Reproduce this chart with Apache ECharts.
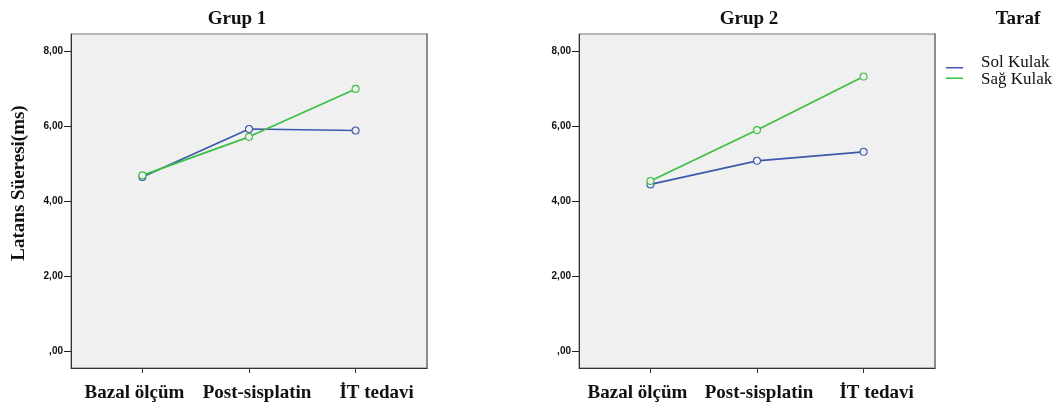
<!DOCTYPE html>
<html>
<head>
<meta charset="utf-8">
<script src="https://cdn.jsdelivr.net/npm/echarts@6/dist/echarts.min.js"></script>
<style>
html,body{margin:0;padding:0;background:#fff;}
#c{width:1061px;height:412px;}
</style>
</head>
<body>
<div id="c"></div>
<script>
var categories = ['Bazal ölçüm', 'Post-sisplatin', 'İT tedavi'];
var yTicks = [0, 2, 4, 6, 8];
var grup1Sol = [4.65, 5.93, 5.89];
var grup1Sag = [4.69, 5.72, 7.00];
var grup2Sol = [4.45, 5.08, 5.32];
var grup2Sag = [4.54, 5.90, 7.33];
var seriesNames = ['Sol Kulak', 'Sağ Kulak'];
var panelTitles = ['Grup 1', 'Grup 2'];

var BLUE = '#3e58ac', GREEN = '#3cbf45';
var SERIF = '"Liberation Serif","Times New Roman",serif';
var SANS = '"Liberation Sans",Arial,sans-serif';

function pairs(vals){ return vals.map(function(v,i){ return [i, v]; }); }
function yFmt(v){ return v === 0 ? ',00' : v.toFixed(2).replace('.', ','); }

// label shifts per panel (in px, via padding)
var shiftsPanel = [[-8, 8, 21], [-13, 2, 13]];

function xAxisFor(gi){
  var sh = shiftsPanel[gi];
  var rich = {};
  sh.forEach(function(s, i){
    rich['l' + i] = {
      fontFamily: SERIF, fontWeight: 'bold', fontSize: 19, color: '#111',
      padding: s < 0 ? [0, -2 * s, 0, 0] : [0, 0, 0, 2 * s]
    };
  });
  return {
    type: 'value', gridIndex: gi, min: -0.67, max: 2.67,
    axisLine: { show: true, onZero: false, lineStyle: { color: '#333', width: 1 } },
    axisTick: { show: true, length: 5, lineStyle: { color: '#333' }, customValues: [0, 1, 2] },
    axisLabel: {
      show: true, margin: 16, customValues: [0, 1, 2],
      formatter: function(v){ var i = Math.round(v); return '{l' + i + '|' + categories[i] + '}'; },
      rich: rich
    },
    splitLine: { show: false }
  };
}
function yAxisFor(gi){
  return {
    type: 'value', gridIndex: gi, min: -0.454, max: 8.467, position: 'left',
    name: gi === 0 ? 'Latans Süeresi(ms)' : '',
    nameLocation: 'middle', nameGap: 42, nameRotate: 90,
    nameTextStyle: { fontFamily: SERIF, fontWeight: 'bold', fontSize: 19, color: '#111', padding: [0, 0, 0, 36] },
    axisLine: { show: true, onZero: false, lineStyle: { color: '#333', width: 1 } },
    axisTick: { show: true, length: 7, lineStyle: { color: '#222' }, customValues: yTicks },
    axisLabel: { show: true, margin: 8, customValues: yTicks, formatter: yFmt,
      fontFamily: SANS, fontWeight: 'bold', fontSize: 10, color: '#111', padding: [3, 0, 0, 0] },
    splitLine: { show: false }
  };
}
function rightAxisFor(gi){
  return {
    type: 'value', gridIndex: gi, min: -0.454, max: 8.467, position: 'right',
    axisLine: { show: true, onZero: false, lineStyle: { color: '#8c8c8c', width: 2 } },
    axisTick: { show: false }, axisLabel: { show: false }, splitLine: { show: false }
  };
}
function lineSeries(name, vals, color, gi){
  return {
    type: 'line', name: name, xAxisIndex: gi, yAxisIndex: gi * 2,
    data: pairs(vals),
    symbol: 'circle', symbolSize: 7,
    lineStyle: { color: color, width: 1.7 },
    itemStyle: { color: '#f0f0f0', borderColor: color, borderWidth: 1.1 },
    emphasis: { disabled: true },
    z: 3
  };
}

var chart = echarts.init(document.getElementById('c'), null, { renderer: 'canvas' });
chart.setOption({
  animation: false,
  backgroundColor: '#fff',
  title: [
    { text: panelTitles[0], left: 232, top: 5, textAlign: 'center',
      textStyle: { fontFamily: SERIF, fontWeight: 'bold', fontSize: 19, color: '#111' } },
    { text: panelTitles[1], left: 744, top: 5, textAlign: 'center',
      textStyle: { fontFamily: SERIF, fontWeight: 'bold', fontSize: 19, color: '#111' } },
    { text: 'Taraf', left: 1013, top: 5, textAlign: 'center',
      textStyle: { fontFamily: SERIF, fontWeight: 'bold', fontSize: 19, color: '#111' } }
  ],
  legend: [
    { orient: 'vertical', left: 941, top: 62, itemWidth: 17, itemHeight: 1.5, itemGap: 9,
      icon: 'rect', formatter: function(){ return ''; },
      textStyle: { fontSize: 1 },
      data: [ { name: seriesNames[0], itemStyle: { color: BLUE, borderWidth: 0 } },
              { name: seriesNames[1], itemStyle: { color: GREEN, borderWidth: 0 } } ] },
    { orient: 'vertical', left: 975, top: 49, itemWidth: 0, itemHeight: 0, itemGap: 0,
      icon: 'rect',
      textStyle: { fontFamily: SERIF, fontSize: 17, color: '#111', padding: [0, 0, 0, -5], lineHeight: 16 },
      data: seriesNames }
  ],
  grid: [
    { left: 71, top: 34, width: 356, height: 334, show: true, backgroundColor: '#f0f0f0', borderColor: '#777', borderWidth: 1 },
    { left: 579, top: 34, width: 356, height: 334, show: true, backgroundColor: '#f0f0f0', borderColor: '#777', borderWidth: 1 }
  ],
  xAxis: [ xAxisFor(0), xAxisFor(1) ],
  yAxis: [ yAxisFor(0), rightAxisFor(0), yAxisFor(1), rightAxisFor(1) ],
  series: [
    lineSeries(seriesNames[0], grup1Sol, BLUE, 0),
    lineSeries(seriesNames[1], grup1Sag, GREEN, 0),
    lineSeries(seriesNames[0], grup2Sol, BLUE, 1),
    lineSeries(seriesNames[1], grup2Sag, GREEN, 1)
  ]
});
</script>
</body>
</html>
